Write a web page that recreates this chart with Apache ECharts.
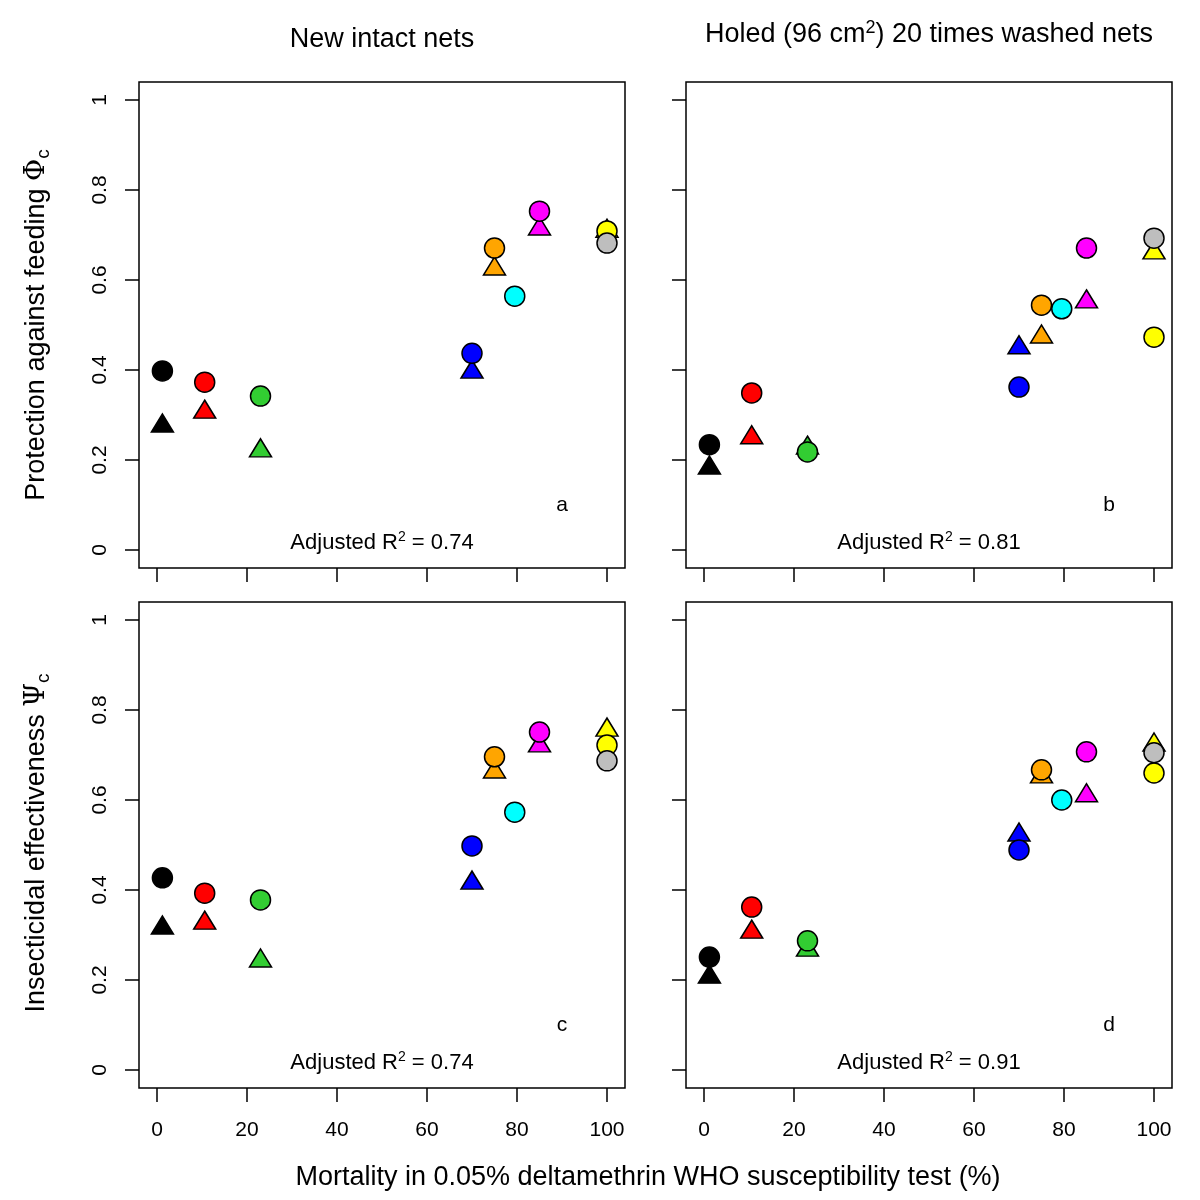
<!DOCTYPE html>
<html><head><meta charset="utf-8">
<script src="https://cdn.jsdelivr.net/npm/echarts@6/dist/echarts.min.js"></script>
<style>html,body{margin:0;padding:0;background:#fff}#c{width:1200px;height:1200px}</style>
</head><body><div id="c"></div>
<script>
const groups = ['black','red','green','blue','orange','cyan','magenta','yellow','grey'];
const colors = ['#000000','#FF0000','#32CD32','#0000FF','#FFA500','#00FFFF','#FF00FF','#FFFF00','#BEBEBE'];
const mortality = [1.2, 10.6, 23, 70, 75, 79.5, 85, 100, 100];

const aCircles   = [0.398, 0.373, 0.342, 0.437, 0.671, 0.564, 0.753, 0.709, 0.682];
const aTriangles = [0.282, 0.313, 0.227, 0.402, 0.631, null, 0.720, 0.715, null];
const bCircles   = [0.234, 0.349, 0.218, 0.362, 0.544, 0.536, 0.671, 0.473, 0.693];
const bTriangles = [0.189, 0.256, 0.233, 0.456, 0.480, null, 0.558, 0.667, null];
const cCircles   = [0.427, 0.393, 0.378, 0.498, 0.696, 0.573, 0.751, 0.722, 0.687];
const cTriangles = [0.322, 0.333, 0.249, 0.422, 0.669, null, 0.727, 0.762, null];
const dCircles   = [0.251, 0.362, 0.287, 0.489, 0.667, 0.600, 0.707, 0.660, 0.705];
const dTriangles = [0.213, 0.313, 0.273, 0.529, 0.658, null, 0.616, 0.729, null];

const xTicks = [0, 20, 40, 60, 80, 100];
const yTicks = [0, 0.2, 0.4, 0.6, 0.8, 1];
const r2Labels = ['0.74', '0.81', '0.74', '0.91'];
const panelLetters = ['a', 'b', 'c', 'd'];

const FONT = '"Liberation Sans", Arial, Helvetica, sans-serif';
const panels = [
  {circ: aCircles, tri: aTriangles, left: 139, top: 82, xLab: false, yLab: true},
  {circ: bCircles, tri: bTriangles, left: 686, top: 82, xLab: false, yLab: false},
  {circ: cCircles, tri: cTriangles, left: 139, top: 602, xLab: true, yLab: true},
  {circ: dCircles, tri: dTriangles, left: 686, top: 602, xLab: true, yLab: false}
];
const W = 486, H = 486;

const grids = [], xAxes = [], yAxes = [], series = [], graphics = [];
panels.forEach((p, i) => {
  grids.push({left: p.left, top: p.top, width: W, height: H, show: true,
    borderColor: '#000', borderWidth: 1.5, backgroundColor: '#fff'});
  xAxes.push({type: 'value', gridIndex: i, min: -4, max: 104, position: 'bottom',
    splitLine: {show: false}, axisLine: {show: false, onZero: false},
    axisTick: {show: true, inside: false, length: 14, customValues: xTicks, lineStyle: {color: '#000', width: 1.5}},
    axisLabel: {show: p.xLab, customValues: xTicks, color: '#000', fontSize: 21, fontFamily: FONT, margin: 32}});
  yAxes.push({type: 'value', gridIndex: i, min: -0.04, max: 1.04, position: 'left',
    splitLine: {show: false}, axisLine: {show: false, onZero: false},
    axisTick: {show: true, inside: false, length: 14, customValues: yTicks, lineStyle: {color: '#000', width: 1.5}},
    axisLabel: {show: p.yLab, customValues: yTicks, rotate: 90, color: '#000', fontSize: 21, fontFamily: FONT, margin: 28,
      formatter: v => String(+v.toFixed(2))}});
  const triData = [], circData = [];
  mortality.forEach((x, k) => {
    if (p.tri[k] != null) triData.push({value: [x, p.tri[k]], itemStyle: {color: colors[k]}});
    circData.push({value: [x, p.circ[k]], itemStyle: {color: colors[k]}});
  });
  series.push({type: 'scatter', xAxisIndex: i, yAxisIndex: i, symbol: 'triangle', symbolSize: [22, 18],
    data: triData, itemStyle: {borderColor: '#000', borderWidth: 1.5, opacity: 1}, z: 2});
  series.push({type: 'scatter', xAxisIndex: i, yAxisIndex: i, symbol: 'circle', symbolSize: 20,
    data: circData, itemStyle: {borderColor: '#000', borderWidth: 1.5, opacity: 1}, z: 3});
  graphics.push({type: 'text', x: p.left + W / 2, y: p.top + H - 25, z: 10,
    style: {text: 'Adjusted R{sup|2} = ' + r2Labels[i], fill: '#000', font: '22px ' + FONT,
      align: 'center', verticalAlign: 'middle',
      rich: {sup: {fontSize: 14, fontFamily: FONT, verticalAlign: 'top', lineHeight: 25}}}});
  graphics.push({type: 'text', x: p.left + 423, y: p.top + H - 63, z: 10,
    style: {text: panelLetters[i], fill: '#000', font: '21px ' + FONT, align: 'center', verticalAlign: 'middle'}});
});

graphics.push({type: 'text', x: 382, y: 40, style: {text: 'New intact nets', fill: '#000', font: '27px ' + FONT, align: 'center', verticalAlign: 'middle'}});
graphics.push({type: 'text', x: 929, y: 35, style: {text: 'Holed (96 cm{sup|2}) 20 times washed nets', fill: '#000', font: '27px ' + FONT, align: 'center', verticalAlign: 'middle',
  rich: {sup: {fontSize: 18, fontFamily: FONT, verticalAlign: 'top', lineHeight: 32}}}});
graphics.push({type: 'text', x: 648, y: 1178, style: {text: 'Mortality in 0.05% deltamethrin WHO susceptibility test (%)', fill: '#000', font: '27px ' + FONT, align: 'center', verticalAlign: 'middle'}});
graphics.push({type: 'text', x: 37, y: 325, rotation: Math.PI / 2, style: {text: 'Protection against feeding {g|Φ}{sub|c}', fill: '#000', font: '27px ' + FONT, align: 'center', verticalAlign: 'middle',
  rich: {g: {fontSize: 27, fontFamily: '"DejaVu Serif", serif'}, sub: {fontSize: 19, fontFamily: FONT, verticalAlign: 'bottom', padding: [13, 0, 0, 0]}}}});
graphics.push({type: 'text', x: 37, y: 843, rotation: Math.PI / 2, style: {text: 'Insecticidal effectiveness {g|Ψ}{sub|c}', fill: '#000', font: '27px ' + FONT, align: 'center', verticalAlign: 'middle',
  rich: {g: {fontSize: 27, fontFamily: '"DejaVu Serif", serif'}, sub: {fontSize: 19, fontFamily: FONT, verticalAlign: 'bottom', padding: [13, 0, 0, 0]}}}});

const chart = echarts.init(document.getElementById('c'), null, {renderer: 'canvas'});
chart.setOption({
  animation: false, backgroundColor: '#fff',
  textStyle: {fontFamily: FONT},
  grid: grids, xAxis: xAxes, yAxis: yAxes, series: series, graphic: graphics
});
</script></body></html>
